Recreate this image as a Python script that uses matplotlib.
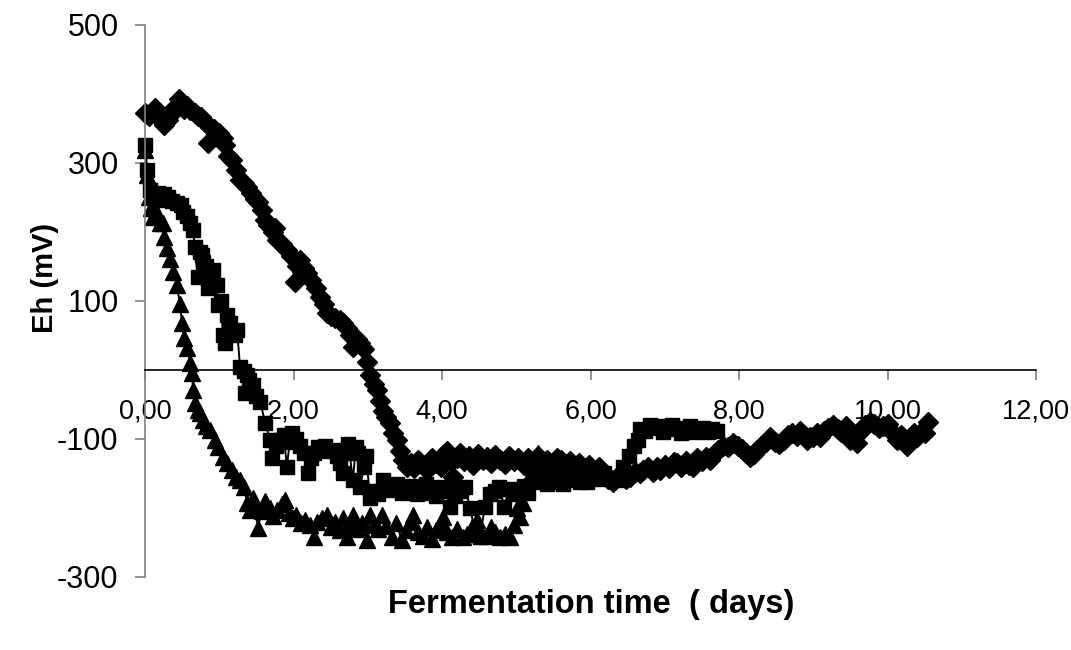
import matplotlib.pyplot as plt
import numpy as np

plt.rcParams['font.family'] = ['Liberation Sans', 'DejaVu Sans']
plt.rcParams['axes.unicode_minus'] = False

# diamond series
t_dia = [0.00, 0.06, 0.13, 0.19, 0.25, 0.31, 0.36, 0.41, 0.46, 0.52, 0.57, 0.61, 0.67, 0.72, 0.76,
         0.82, 0.85, 0.87, 0.93, 1.00, 1.05, 1.08, 1.12, 1.17, 1.22, 1.28, 1.33, 1.37, 1.43, 1.48,
         1.52, 1.57, 1.62, 1.66, 1.72, 1.75, 1.78, 1.84, 1.91, 1.96, 2.02, 2.05, 2.09, 2.14, 2.18,
         2.24, 2.30, 2.36, 2.41, 2.45, 2.50, 2.56, 2.63, 2.67, 2.72, 2.76, 2.80, 2.85, 2.90, 2.95,
         2.99, 3.03, 3.08, 3.12, 3.17, 3.20, 3.25, 3.30, 3.34, 3.39, 3.43, 3.48, 3.53, 3.58, 3.62,
         3.68, 3.74, 3.80, 3.86, 3.92, 3.98, 4.03, 4.07, 4.12, 4.15, 4.20, 4.24, 4.30, 4.36, 4.42,
         4.48, 4.55, 4.60, 4.66, 4.72, 4.78, 4.85, 4.90, 4.97, 5.03, 5.10, 5.16, 5.22, 5.29, 5.35,
         5.42, 5.48, 5.55, 5.60, 5.66, 5.72, 5.78, 5.85, 5.92, 5.98, 6.05, 6.12, 6.18, 6.24, 6.30,
         6.36, 6.42, 6.48, 6.53, 6.60, 6.66, 6.71, 6.78, 6.84, 6.90, 6.94, 7.00, 7.06, 7.12, 7.16,
         7.22, 7.28, 7.33, 7.38, 7.44, 7.50, 7.56, 7.61, 7.66, 7.72, 7.78, 7.85, 7.92, 7.98, 8.04,
         8.10, 8.15, 8.20, 8.24, 8.30, 8.36, 8.42, 8.48, 8.54, 8.60, 8.66, 8.72, 8.78, 8.82, 8.87,
         8.91, 8.96, 9.00, 9.05, 9.09, 9.14, 9.20, 9.27, 9.33, 9.38, 9.44, 9.50, 9.55, 9.59, 9.64,
         9.70, 9.76, 9.82, 9.88, 9.94, 10.00, 10.05, 10.10, 10.13, 10.18, 10.22, 10.26, 10.31, 10.36,
         10.40, 10.45, 10.50, 10.55]
eh_dia = [372, 368, 379, 365, 355, 362, 372, 380, 392, 378, 382, 376, 372, 368, 366,
          358, 328, 352, 348, 343, 335, 326, 310, 304, 290, 275, 270, 265, 256, 248,
          243, 232, 217, 210, 200, 205, 188, 182, 174, 165, 127, 150, 159, 148, 140,
          130, 118, 106, 95, 82, 78, 75, 72, 68, 60, 50, 33, 45, 39, 30,
          12, -8, -20, -29, -45, -60, -68, -77, -92, -101, -118, -130, -140, -135, -142,
          -130, -138, -145, -128, -135, -140, -122, -118, -130, -155, -128, -120, -132, -125, -138,
          -122, -130, -126, -135, -124, -130, -136, -125, -132, -128, -138, -127, -133, -125, -140,
          -131, -136, -128, -130, -138, -132, -140, -135, -142, -138, -145, -140, -150, -158, -162,
          -155, -150, -158, -155, -148, -150, -145, -140, -148, -140, -145, -138, -142, -133, -135,
          -140, -132, -138, -140, -128, -132, -126, -130, -122, -116, -110, -112, -106, -110, -115,
          -120, -126, -122, -116, -110, -104, -98, -104, -108, -101, -95, -92, -96, -88, -94,
          -101, -97, -97, -92, -97, -88, -84, -80, -85, -90, -82, -101, -95, -106, -88,
          -80, -75, -78, -84, -82, -78, -88, -95, -101, -94, -105, -111, -100, -92,
          -97, -90, -91, -75]

# square series
t_sq = [0.00, 0.03, 0.07, 0.12, 0.18, 0.20, 0.25, 0.31, 0.37, 0.43, 0.48, 0.51, 0.57, 0.60, 0.65,
        0.67, 0.71, 0.74, 0.77, 0.78, 0.82, 0.85, 0.88, 0.92, 0.97, 0.98, 1.02, 1.05, 1.08, 1.10,
        1.14, 1.18, 1.21, 1.24, 1.28, 1.33, 1.35, 1.37, 1.40, 1.46, 1.50, 1.55, 1.62, 1.68, 1.71,
        1.76, 1.82, 1.87, 1.91, 1.95, 1.98, 2.03, 2.09, 2.14, 2.20, 2.24, 2.27, 2.33, 2.38, 2.42,
        2.48, 2.54, 2.58, 2.63, 2.67, 2.70, 2.74, 2.80, 2.84, 2.87, 2.90, 2.95, 2.98, 3.03, 3.08,
        3.14, 3.20, 3.26, 3.34, 3.40, 3.46, 3.53, 3.59, 3.66, 3.72, 3.79, 3.85, 3.92, 3.98, 4.05,
        4.11, 4.18, 4.25, 4.31, 4.38, 4.45, 4.51, 4.58, 4.64, 4.71, 4.77, 4.84, 4.90, 4.97, 5.03,
        5.10, 5.16, 5.22, 5.29, 5.35, 5.42, 5.48, 5.55, 5.63, 5.70, 5.78, 5.86, 5.95, 6.02, 6.10,
        6.18, 6.26, 6.36, 6.44, 6.52, 6.58, 6.64, 6.67, 6.74, 6.80, 6.86, 6.92, 6.98, 7.04, 7.10,
        7.16, 7.22, 7.28, 7.34, 7.40, 7.46, 7.52, 7.58, 7.64, 7.70]
eh_sq = [326, 289, 260, 250, 256, 246, 255, 250, 245, 242, 238, 229, 222, 212, 202,
         178, 135, 170, 166, 156, 150, 119, 140, 145, 123, 94, 100, 51, 39, 80,
         68, 55, 51, 58, 4, -2, -33, -7, -15, -22, -38, -46, -77, -101, -127,
         -110, -101, -95, -140, -105, -91, -100, -111, -120, -149, -128, -120, -112, -115, -111,
         -118, -116, -125, -135, -149, -120, -108, -159, -112, -120, -169, -140, -125, -185, -175,
         -180, -159, -172, -174, -165, -178, -174, -168, -180, -172, -165, -178, -183, -170, -176,
         -198, -182, -175, -170, -200, -238, -242, -198, -180, -175, -170, -198, -172, -180, -174,
         -168, -178, -160, -163, -158, -165, -160, -162, -166, -158, -160, -163, -162, -155, -158,
         -150, -156, -159, -140, -125, -111, -101, -85, -88, -80, -84, -82, -90, -86, -80,
         -84, -92, -86, -82, -90, -87, -84, -90, -85, -88]

# triangle series
t_tri = [0.00, 0.03, 0.06, 0.08, 0.11, 0.15, 0.20, 0.24, 0.26, 0.30, 0.34, 0.38, 0.43, 0.47, 0.50,
         0.52, 0.57, 0.61, 0.63, 0.65, 0.68, 0.71, 0.74, 0.78, 0.82, 0.88, 0.94, 0.98, 1.05, 1.10,
         1.17, 1.22, 1.28, 1.34, 1.37, 1.41, 1.45, 1.49, 1.52, 1.57, 1.62, 1.68, 1.73, 1.78, 1.84,
         1.89, 1.94, 1.99, 2.04, 2.10, 2.16, 2.22, 2.27, 2.32, 2.38, 2.45, 2.50, 2.56, 2.62, 2.67,
         2.72, 2.76, 2.80, 2.86, 2.92, 2.99, 3.03, 3.08, 3.14, 3.19, 3.25, 3.32, 3.38, 3.46, 3.52,
         3.58, 3.61, 3.68, 3.74, 3.80, 3.86, 3.92, 3.98, 4.01, 4.07, 4.14, 4.20, 4.28, 4.34, 4.41,
         4.47, 4.53, 4.60, 4.66, 4.72, 4.78, 4.85, 4.92, 4.97, 5.01, 5.05, 5.09, 5.14, 5.20, 5.25,
         5.29, 5.34, 5.40, 5.46, 5.52, 5.58, 5.64, 5.70, 5.76, 5.82, 5.88, 5.95, 6.00, 6.06, 6.12,
         6.18]
eh_tri = [318, 282, 250, 235, 221, 230, 212, 212, 193, 176, 160, 142, 123, 95, 68,
          46, 32, 10, -4, -29, -48, -58, -62, -72, -82, -87, -101, -112, -126, -135,
          -145, -155, -160, -169, -193, -203, -185, -200, -229, -205, -190, -200, -212, -203, -195,
          -188, -208, -215, -210, -222, -218, -225, -242, -220, -215, -210, -228, -220, -232, -215,
          -242, -225, -210, -230, -222, -246, -210, -225, -230, -210, -226, -242, -222, -246, -232,
          -220, -210, -235, -240, -228, -245, -232, -225, -213, -235, -242, -230, -242, -238, -228,
          -217, -236, -240, -228, -235, -242, -238, -242, -225, -200, -213, -193, -170, -150, -140,
          -120, -135, -142, -138, -145, -140, -148, -142, -150, -144, -148, -140, -145, -150, -143,
          -148]

xticks = [0, 2, 4, 6, 8, 10, 12]
xticklabels = ['0,00', '2,00', '4,00', '6,00', '8,00', '10,00', '12,00']
yticks = [-300, -100, 100, 300, 500]

fig = plt.figure(figsize=(10.71, 6.5), dpi=100)
ax = fig.add_axes([145/1071, 1 - 577/650, 891/1071, 552.5/650])

kw = dict(color='black', lw=1.4, mfc='black', mec='black', clip_on=False)
ax.plot(t_dia, eh_dia, marker='D', ms=10, **kw)
ax.plot(t_sq, eh_sq, marker='s', ms=9.5, **kw)
ax.plot(t_tri, eh_tri, marker='^', ms=11, **kw)

ax.set_xlim(0, 12)
ax.set_ylim(-300, 500)

ax.spines['top'].set_visible(False)
ax.spines['right'].set_visible(False)
ax.spines['left'].set_color('#808080')
ax.spines['left'].set_linewidth(1.2)
ax.spines['bottom'].set_position(('data', 0))
ax.spines['bottom'].set_color('black')
ax.spines['bottom'].set_linewidth(1.2)

ax.set_xticks(xticks)
ax.set_xticklabels(xticklabels)
ax.set_yticks(yticks)
ax.tick_params(axis='y', direction='out', length=7, width=1.2, color='#808080', pad=12, labelsize=22)
ax.tick_params(axis='x', direction='out', length=7, width=1.2, color='#808080', pad=14, labelsize=19.5)

fig.text(45/1071, 1 - 278/650, 'Eh (mV)', rotation=90, fontsize=21, fontweight='bold',
         ha='center', va='center')
fig.text(591/1071, 1 - 605/650, 'Fermentation time  ( days)', fontsize=23.5, fontweight='bold',
         ha='center', va='center')

fig.savefig('out.png', dpi=100)
